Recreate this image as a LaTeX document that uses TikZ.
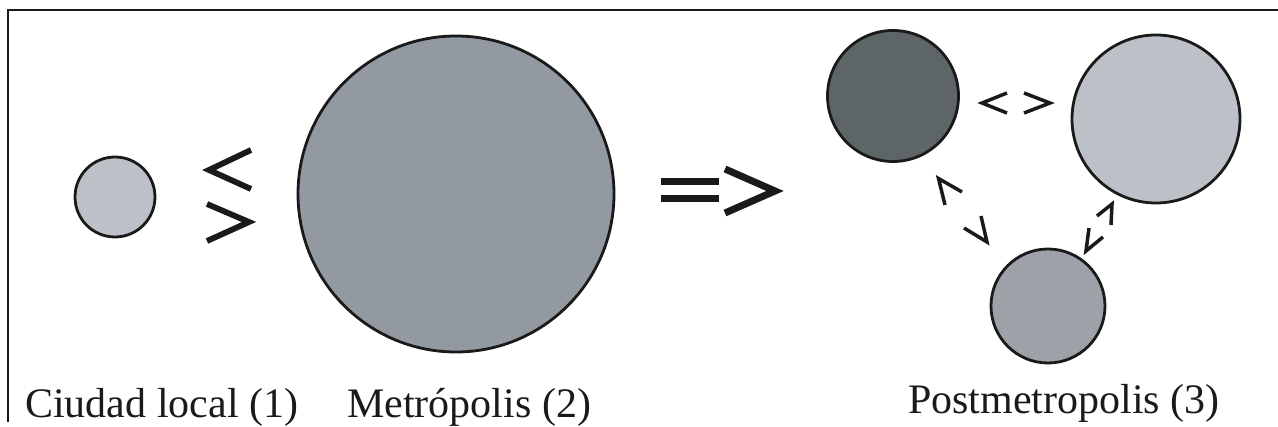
\documentclass[tikz,border=0pt]{standalone}
\usepackage{fontspec}
\setmainfont{Liberation Serif}
\definecolor{cLight}{HTML}{BCC1C7}
\definecolor{cMid}{HTML}{9299A0}
\definecolor{cDark}{HTML}{5E6567}
\definecolor{cBot}{HTML}{9DA2A9}
\definecolor{ink}{HTML}{1A1A1A}
\tikzset{
  city/.style={circle, draw=ink, line width=2.8pt, inner sep=0pt, outer sep=0pt},
  bigsym/.style={draw=ink, line width=5.8pt, line join=miter, line cap=butt},
  arrsym/.style={draw=ink, line width=7pt, line join=miter, line cap=butt},
  chevline/.style={draw=ink, line width=3.5pt, line join=miter, line cap=butt},
  label/.style={anchor=base west, inner sep=0pt, font=\fontsize{42}{50}\selectfont, text=ink},
  frameline/.style={draw=ink, line width=1.3pt}
}
\begin{document}
\begin{tikzpicture}[x=1pt, y=-1pt]
\useasboundingbox (0,0) rectangle (1278,427);
% frame (top and left edges)
\draw[frameline] (8,422) -- (8,10) -- (1278,10);
% cities
\node[city, fill=cLight, minimum size=80pt] (c1) at (115,197) {};
\node[city, fill=cMid, minimum size=316pt] (c2) at (456,194) {};
\node[city, fill=cDark, minimum size=131pt] (pd) at (893,96) {};
\node[city, fill=cLight, minimum size=168pt] (pl) at (1156,119) {};
\node[city, fill=cBot, minimum size=114pt] (pb) at (1048,306) {};
% less / greater between local city and metropolis
\draw[bigsym] (251,150) -- (209,170) -- (251,189);
\draw[bigsym] (207,204) -- (249,222) -- (207,241);
% implication arrow
\draw[arrsym] (661,181.5) -- (719,181.5);
\draw[arrsym] (661,198.5) -- (719,198.5);
\draw[arrsym] (725,169) -- (775,191) -- (725,213);
% postmetropolis relations
\draw[chevline] (1007,93) -- (982,103) -- (1007,113);
\draw[chevline] (1024,93) -- (1050,103) -- (1024,113);
\draw[chevline] (962,192) -- (938.5,178.5) -- (945,205);
\draw[chevline] (964,228) -- (987,242) -- (981,216);
\draw[chevline] (1097,216) -- (1112,204) -- (1111,225);
\draw[chevline] (1103,237) -- (1086,251) -- (1089,228);
% labels
\node[label] (t1) at (25,418) {Ciudad local (1)};
\node[label] (t2) at (347,418) {Metrópolis (2)};
\node[label] (t3) at (908,414) {Postmetropolis (3)};
\end{tikzpicture}
\end{document}
